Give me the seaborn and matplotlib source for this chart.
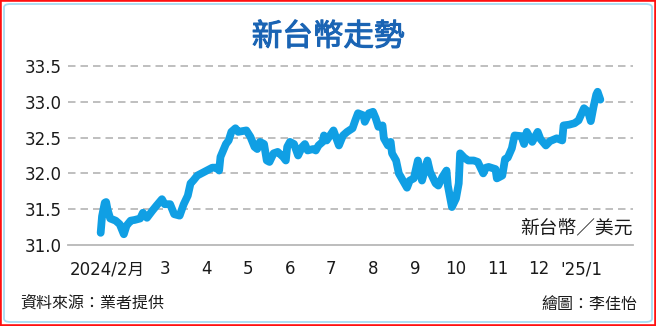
import matplotlib
matplotlib.use("Agg")
import matplotlib.pyplot as plt
import matplotlib.transforms as mtransforms
from matplotlib.patches import Rectangle, FancyBboxPatch
import seaborn as sns
import pandas as pd

# ---------------- data ----------------
dates = [
    "2024-01-14", "2024-01-15", "2024-01-17", "2024-01-18", "2024-01-19", "2024-01-21",
    "2024-01-25", "2024-01-28", "2024-01-31", "2024-02-02", "2024-02-05", "2024-02-08",
    "2024-02-12", "2024-02-14", "2024-02-17", "2024-02-21", "2024-02-24", "2024-02-28",
    "2024-03-01", "2024-03-05", "2024-03-08", "2024-03-12", "2024-03-15", "2024-03-18",
    "2024-03-20", "2024-03-22", "2024-03-25", "2024-03-28", "2024-04-01", "2024-04-05",
    "2024-04-08", "2024-04-10", "2024-04-11", "2024-04-15", "2024-04-17", "2024-04-19",
    "2024-04-22", "2024-04-24", "2024-04-30", "2024-05-03", "2024-05-06", "2024-05-08",
    "2024-05-10", "2024-05-13", "2024-05-15", "2024-05-17", "2024-05-20", "2024-05-23",
    "2024-05-27", "2024-05-29", "2024-05-30", "2024-06-01", "2024-06-04", "2024-06-07",
    "2024-06-10", "2024-06-12", "2024-06-14", "2024-06-18", "2024-06-20", "2024-06-22",
    "2024-06-25", "2024-06-26", "2024-06-28", "2024-07-03", "2024-07-07", "2024-07-10",
    "2024-07-13", "2024-07-17", "2024-07-19", "2024-07-21", "2024-07-25", "2024-07-26",
    "2024-07-29", "2024-08-01", "2024-08-03", "2024-08-05", "2024-08-08", "2024-08-09",
    "2024-08-12", "2024-08-14", "2024-08-15", "2024-08-18", "2024-08-20", "2024-08-23",
    "2024-08-26", "2024-08-28", "2024-08-31", "2024-09-03", "2024-09-06", "2024-09-10",
    "2024-09-12", "2024-09-16", "2024-09-18", "2024-09-21", "2024-09-24", "2024-09-25",
    "2024-09-28", "2024-10-01", "2024-10-03", "2024-10-04", "2024-10-07", "2024-10-10",
    "2024-10-14", "2024-10-17", "2024-10-21", "2024-10-23", "2024-10-25", "2024-10-30",
    "2024-10-31", "2024-11-04", "2024-11-06", "2024-11-08", "2024-11-11", "2024-11-13",
    "2024-11-18", "2024-11-20", "2024-11-22", "2024-11-26", "2024-11-30", "2024-12-02",
    "2024-12-06", "2024-12-09", "2024-12-14", "2024-12-18", "2024-12-19", "2024-12-23",
    "2024-12-27", "2024-12-30", "2025-01-03", "2025-01-06", "2025-01-08", "2025-01-10",
    "2025-01-12", "2025-01-13", "2025-01-15",
]
rates = [
    31.17, 31.40, 31.59, 31.60, 31.50, 31.37,
    31.34, 31.29, 31.15, 31.27, 31.34, 31.35,
    31.37, 31.45, 31.38, 31.48, 31.55, 31.64,
    31.57, 31.57, 31.43, 31.41, 31.57, 31.69,
    31.86, 31.90, 31.97, 32.00, 32.04, 32.08,
    32.08, 32.04, 32.23, 32.41, 32.46, 32.58,
    32.63, 32.58, 32.60, 32.51, 32.37, 32.34,
    32.44, 32.41, 32.18, 32.16, 32.28, 32.30,
    32.23, 32.18, 32.37, 32.44, 32.41, 32.25,
    32.37, 32.41, 32.32, 32.34, 32.32, 32.39,
    32.44, 32.53, 32.46, 32.60, 32.39, 32.53,
    32.58, 32.63, 32.74, 32.84, 32.81, 32.72,
    32.84, 32.86, 32.77, 32.65, 32.67, 32.49,
    32.39, 32.44, 32.28, 32.18, 32.00, 31.90,
    31.80, 31.90, 31.93, 32.18, 31.90, 32.18,
    32.02, 31.86, 31.83, 31.95, 32.04, 31.83,
    31.53, 31.65, 31.86, 32.28, 32.22, 32.18,
    32.18, 32.16, 32.00, 32.08, 32.09, 32.06,
    31.93, 31.97, 32.20, 32.22, 32.35, 32.53,
    32.52, 32.41, 32.58, 32.44, 32.58, 32.48,
    32.39, 32.45, 32.49, 32.46, 32.67, 32.68,
    32.70, 32.74, 32.91, 32.86, 32.73, 32.93,
    33.10, 33.14, 33.03,
]
tick_dates = ["2024-02-01", "2024-03-01", "2024-04-01", "2024-05-01", "2024-06-01",
              "2024-07-01", "2024-08-01", "2024-09-01", "2024-10-01", "2024-11-01",
              "2024-12-01", "2025-01-01"]
tick_labels = ["2024/2月", "3", "4", "5", "6", "7", "8", "9", "10", "11", "12", "'25/1"]
y_ticks = [31.0, 31.5, 32.0, 32.5, 33.0, 33.5]
y_labels = ["31.0", "31.5", "32.0", "32.5", "33.0", "33.5"]

title = "新台幣走勢"
unit_label = "新台幣／美元"
source = "資料來源：業者提供"
credit = "繪圖：李佳怡"

# ---------------- style ----------------
sns.set_style("white")
plt.rcParams["font.family"] = ["DejaVu Sans", "Noto Sans CJK TC"]
CJK = ["Noto Sans CJK TC", "DejaVu Sans"]

df = pd.DataFrame({"date": pd.to_datetime(dates), "rate": rates})

W, H = 656, 326
fig = plt.figure(figsize=(W / 100, H / 100), dpi=100)
fig.patch.set_facecolor("white")

ax_left, ax_right = 68, 633
ax_bottom_px, ax_top_px = 245, 62.4
ax = fig.add_axes([ax_left / W, (H - ax_bottom_px) / H,
                   (ax_right - ax_left) / W, (ax_bottom_px - ax_top_px) / H])

sns.lineplot(data=df, x="date", y="rate", ax=ax, color="#109fe4", linewidth=5.6,
             solid_joinstyle="round", solid_capstyle="round", zorder=3)

ax.set_xlim(pd.Timestamp("2023-12-21"), pd.Timestamp("2025-02-08"))
ax.set_ylim(31.0, 33.55)

ax.set_yticks(y_ticks)
ax.set_yticklabels(y_labels)
ax.set_xticks(pd.to_datetime(tick_dates))
ax.set_xticklabels(tick_labels)

for yv in y_ticks[1:]:
    ax.axhline(yv, color="#b4b4b4", linewidth=1.2, linestyle=(0, (4.5, 3)), zorder=1)

for s in ["top", "right", "left"]:
    ax.spines[s].set_visible(False)
ax.spines["bottom"].set_color("#b8b8b8")
ax.spines["bottom"].set_linewidth(1.3)

ax.tick_params(axis="y", length=0, pad=4.5, labelsize=12, labelcolor="#1a1a1a")
ax.tick_params(axis="x", length=4, width=1.2, color="#b8b8b8", direction="out",
               pad=7, labelsize=12, labelcolor="#1a1a1a")
ax.set_xlabel("")
ax.set_ylabel("")

# shift the first month label left like the reference
first = ax.get_xticklabels()[0]
first.set_transform(first.get_transform() +
                    mtransforms.ScaledTranslation(-18 / 100, 0, fig.dpi_scale_trans))

ax.text(1.0, 0.093, unit_label, transform=ax.transAxes, ha="right", va="center",
        fontsize=13.5, family=CJK, color="#1a1a1a")

fig.text(0.5, 1 - 37 / H, title, ha="center", va="center", fontsize=22,
         family=CJK, fontweight="normal", color="#1a64b4",
         path_effects=[__import__("matplotlib.patheffects", fromlist=["x"]).withStroke(
             linewidth=0.8, foreground="#1a64b4")])
fig.text(20 / W, 1 - 303 / H, source, ha="left", va="center", fontsize=11.5,
         family=CJK, color="#1a1a1a")
fig.text(637 / W, 1 - 304 / H, credit, ha="right", va="center", fontsize=11.5,
         family=CJK, color="#1a1a1a")

# frame: outer red line + inner rounded light-blue border
fig.patches.append(FancyBboxPatch((4 / W, 4 / H), 1 - 8 / W, 1 - 8 / H,
                                  boxstyle="round,pad=0,rounding_size=0.01",
                                  transform=fig.transFigure, fill=False,
                                  edgecolor="#a6dcf2", linewidth=1.3))
fig.patches.append(Rectangle((0, 0), 1, 1, transform=fig.transFigure, fill=False,
                             edgecolor="#ff1010", linewidth=2.6))

fig.savefig("out.png", dpi=100, facecolor="white")
